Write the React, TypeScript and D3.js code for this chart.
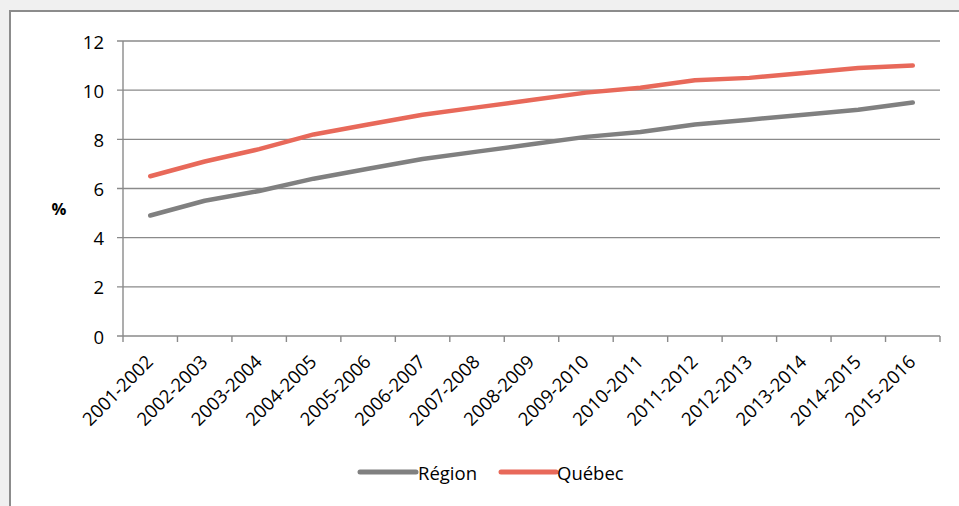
import React from "react";
import * as d3 from "d3";

const categories = [
  "2001-2002", "2002-2003", "2003-2004", "2004-2005", "2005-2006",
  "2006-2007", "2007-2008", "2008-2009", "2009-2010", "2010-2011",
  "2011-2012", "2012-2013", "2013-2014", "2014-2015", "2015-2016",
];
const regionValues = [4.9, 5.5, 5.9, 6.4, 6.8, 7.2, 7.5, 7.8, 8.1, 8.3, 8.6, 8.8, 9.0, 9.2, 9.5];
const quebecValues = [6.5, 7.1, 7.6, 8.2, 8.6, 9.0, 9.3, 9.6, 9.9, 10.1, 10.4, 10.5, 10.7, 10.9, 11.0];
const yTicks = [0, 2, 4, 6, 8, 10, 12];
const seriesNames = ["Région", "Québec"];
const seriesColors = ["#808080", "#E8695A"];

const W = 959;
const H = 506;
const FONT = "'Open Sans', Lato, sans-serif";
const FS = 18.5;

export default function App() {
  const left = 123, right = 940, top = 41, bottom = 336;
  const x = d3.scaleBand<string>().domain(categories).range([left, right]).paddingInner(0).paddingOuter(0);
  const y = d3.scaleLinear().domain([0, 12]).range([bottom, top]);
  const line = d3
    .line<number>()
    .x((_, i) => (x(categories[i]) as number) + x.bandwidth() / 2)
    .y((d) => y(d));
  const series = [regionValues, quebecValues];
  const gridColor = "#8a8a8a";
  const tickEdges = categories.map((c) => x(c) as number).concat([right]);

  const legendItems = [
    { x1: 360, x2: 416, tx: 418 },
    { x1: 501, x2: 556, tx: 557 },
  ];

  return (
    <svg
      width={W}
      height={H}
      style={{ position: "fixed", left: 0, top: 0, display: "block" }}
      fontFamily={FONT}
    >
      <rect x={0} y={0} width={W} height={H} fill="#f0f0f0" />
      <rect x={10} y={11} width={W + 20} height={H + 20} fill="#ffffff" stroke="#8c8c8c" strokeWidth={2} />

      {/* gridlines + y ticks */}
      {yTicks.map((t) => (
        <g key={t}>
          <line x1={left - 6} x2={right} y1={y(t)} y2={y(t)} stroke={gridColor} strokeWidth={1.4} />
          <text
            x={104}
            y={y(t)}
            textAnchor="end"
            dominantBaseline="central"
            fontSize={FS}
            fill="#000"
          >
            {t}
          </text>
        </g>
      ))}
      {/* y axis line */}
      <line x1={left} x2={left} y1={top} y2={bottom} stroke={gridColor} strokeWidth={1.4} />
      {/* x tick marks */}
      {tickEdges.map((tx, i) => (
        <line key={i} x1={tx} x2={tx} y1={bottom} y2={bottom + 6} stroke={gridColor} strokeWidth={1.4} />
      ))}
      {/* x labels */}
      {categories.map((c) => {
        const cx = (x(c) as number) + x.bandwidth() / 2 + 4;
        const cy = bottom + 27;
        return (
          <text
            key={c}
            x={cx}
            y={cy}
            textAnchor="end"
            fontSize={FS}
            fill="#000"
            transform={`rotate(-45 ${cx} ${cy})`}
          >
            {c}
          </text>
        );
      })}
      {/* y label */}
      <text x={59} y={208} textAnchor="middle" dominantBaseline="central" fontSize={16.5} fontWeight="bold" fill="#000">
        %
      </text>

      {/* series lines */}
      {series.map((vals, i) => (
        <path
          key={i}
          d={line(vals) as string}
          fill="none"
          stroke={seriesColors[i]}
          strokeWidth={4.5}
          strokeLinecap="round"
          strokeLinejoin="round"
        />
      ))}

      {/* legend */}
      {legendItems.map((it, i) => (
        <g key={i}>
          <line x1={it.x1} x2={it.x2} y1={472} y2={472} stroke={seriesColors[i]} strokeWidth={5} strokeLinecap="round" />
          <text x={it.tx} y={472} dominantBaseline="central" fontSize={FS} fill="#000">
            {seriesNames[i]}
          </text>
        </g>
      ))}
    </svg>
  );
}
